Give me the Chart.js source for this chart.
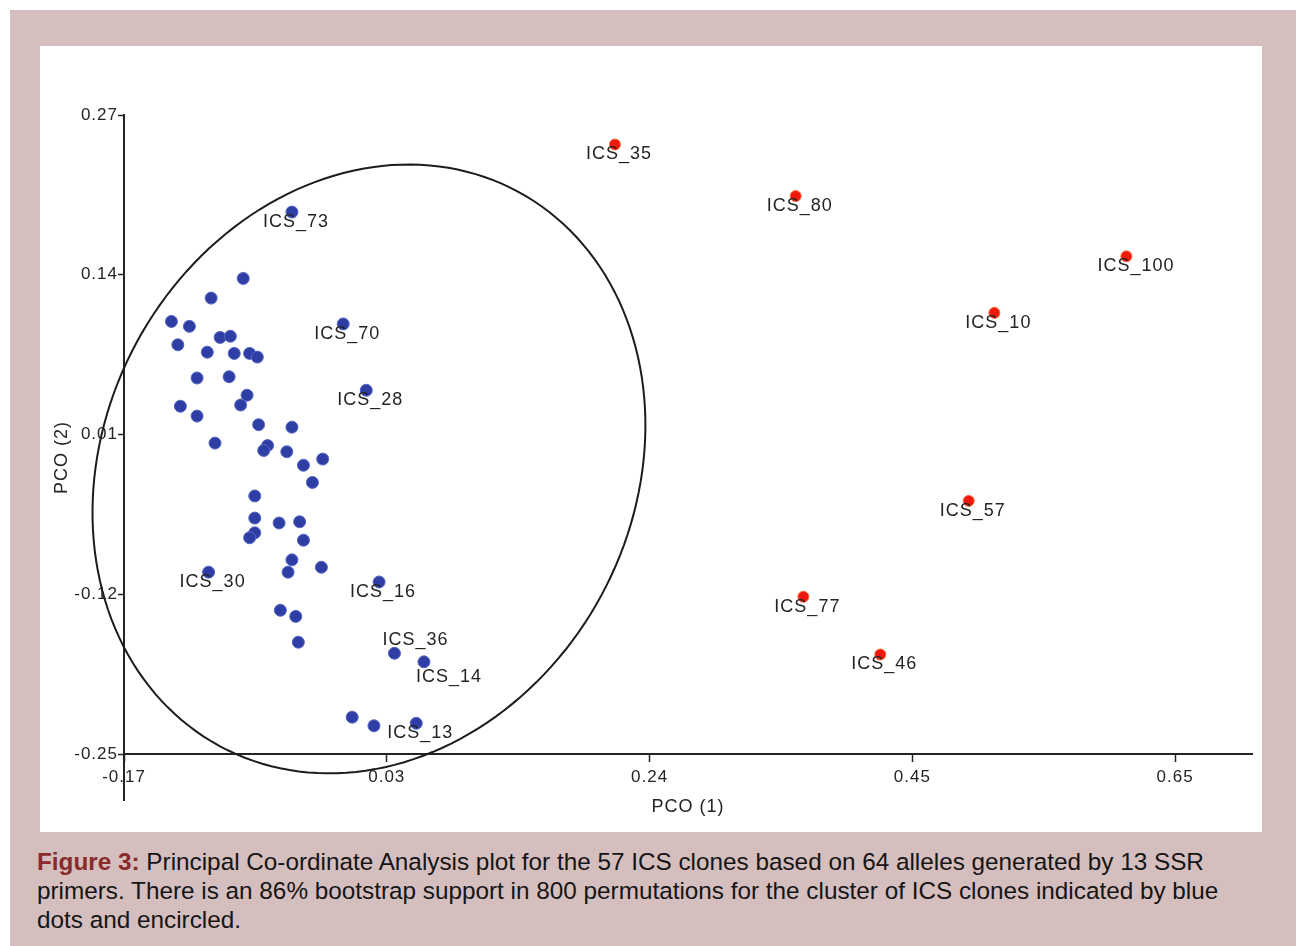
<!DOCTYPE html>
<html>
<head>
<meta charset="utf-8">
<title>PCO plot of ICS clones</title>
<script src="https://cdn.jsdelivr.net/npm/chart.js@4.4.1/dist/chart.umd.min.js"></script>
<style>
  html, body { margin: 0; padding: 0; background: #fff; }
  body { width: 1296px; height: 946px; position: relative; overflow: hidden;
         font-family: "Liberation Sans", Arial, sans-serif; }
  #frame { position: absolute; left: 10px; top: 10px; width: 1286px; height: 936px; background: #d5bebe; }
  #panel { position: absolute; left: 40px; top: 46px; width: 1222px; height: 786px; background: #fff; }
  #caption { position: absolute; left: 37px; top: 847px; font-size: 24.3px; line-height: 29px;
             color: #151515; white-space: nowrap; }
  #caption b { color: #8a2a2c; }
</style>
</head>
<body>
<div id="frame"></div>
<div id="panel"><canvas id="pco"></canvas></div>
<div id="caption"><b>Figure 3:</b> Principal Co-ordinate Analysis plot for the 57 ICS clones based on 64 alleles generated by 13 SSR<br>primers. There is an 86% bootstrap support in 800 permutations for the cluster of ICS clones indicated by blue<br>dots and encircled.</div>

<script>
// encircled cluster (blue dots): PCO (1), PCO (2), name ('' = no label)
const clusterX = [-0.039, -0.077, -0.102, -0.133, -0.119, -0.095, -0.087, -0.128, -0.105, -0.084,
                  -0.072, -0.066, -0.113, -0.088, 0.001, 0.019, -0.074, -0.079, -0.126, -0.113,
                  -0.065, -0.039, -0.099, -0.058, -0.061, -0.043, -0.030, -0.015, -0.023, -0.068,
                  -0.068, -0.049, -0.033, -0.068, -0.072, -0.030, -0.039, -0.016, -0.042, -0.104,
                  0.029, -0.048, -0.036, -0.034, 0.041, 0.064, 0.008, 0.025, 0.058];
const clusterY = [0.191, 0.137, 0.121, 0.102, 0.098, 0.089, 0.090, 0.083, 0.077, 0.076,
                  0.076, 0.073, 0.056, 0.057, 0.100, 0.046, 0.042, 0.034, 0.033, 0.025,
                  0.018, 0.016, 0.003, 0.001, -0.003, -0.004, -0.015, -0.010, -0.029, -0.040,
                  -0.058, -0.062, -0.061, -0.070, -0.074, -0.076, -0.092, -0.098, -0.102, -0.102,
                  -0.110, -0.133, -0.138, -0.159, -0.168, -0.175, -0.220, -0.227, -0.225];
const clusterNames = ['ICS_73', '', '', '', '', '', '', '', '', '',
                      '', '', '', '', 'ICS_70', 'ICS_28', '', '', '', '',
                      '', '', '', '', '', '', '', '', '', '',
                      '', '', '', '', '', '', '', '', '', 'ICS_30',
                      'ICS_16', '', '', '', 'ICS_36', 'ICS_14', '', '', 'ICS_13'];

// clones outside the cluster (red dots)
const outlierX = [0.213, 0.354, 0.612, 0.509, 0.489, 0.360, 0.420];
const outlierY = [0.246, 0.204, 0.155, 0.109, -0.044, -0.122, -0.169];
const outlierNames = ['ICS_35', 'ICS_80', 'ICS_100', 'ICS_10', 'ICS_57', 'ICS_77', 'ICS_46'];

const xTickValues = [-0.17, 0.035, 0.24, 0.445, 0.65];
const xTickLabels = ['-0.17', '0.03', '0.24', '0.45', '0.65'];
const yTickValues = [0.27, 0.14, 0.01, -0.12, -0.25];
const yTickLabels = ['0.27', '0.14', '0.01', '-0.12', '-0.25'];

const ink = '#242424';
const fontFamily = '"Liberation Sans", Arial, sans-serif';

// labels that were moved off their usual spot to avoid overlap (px)
const labelNudge = { ICS_36: [17, -23], ICS_14: [21, 5] };

// the 86% bootstrap cluster ellipse, in data units (centre + two conjugate half-axes)
const clusterEllipse = { cx: 0.0211, cy: -0.018, ax: 0.1165, ay: 0.2255, bx: 0.1815, by: -0.1025 };

function points(xs, ys) {
  return xs.map((x, i) => ({ x: x, y: ys[i] }));
}

const spacedText = {
  id: 'spacedText',
  beforeDraw(chart) { chart.ctx.letterSpacing = '1px'; },
  afterDraw(chart) { chart.ctx.letterSpacing = '0px'; }
};

const ellipse = {
  id: 'ellipse',
  afterDatasetsDraw(chart) {
    const { ctx, scales: { x, y } } = chart;
    const e = clusterEllipse;
    ctx.save();
    ctx.beginPath();
    for (let deg = 0; deg <= 360; deg += 2) {
      const t = deg * Math.PI / 180;
      const px = x.getPixelForValue(e.cx + e.ax * Math.cos(t) + e.bx * Math.sin(t));
      const py = y.getPixelForValue(e.cy + e.ay * Math.cos(t) + e.by * Math.sin(t));
      if (deg === 0) ctx.moveTo(px, py); else ctx.lineTo(px, py);
    }
    ctx.closePath();
    ctx.lineWidth = 2;
    ctx.strokeStyle = '#1c1c1c';
    ctx.stroke();
    ctx.restore();
  }
};

const pointNames = {
  id: 'pointNames',
  afterDatasetsDraw(chart) {
    const ctx = chart.ctx;
    ctx.save();
    ctx.font = '18px ' + fontFamily;
    ctx.letterSpacing = '1px';
    ctx.fillStyle = ink;
    ctx.textAlign = 'left';
    ctx.textBaseline = 'middle';
    chart.data.datasets.forEach((ds, i) => {
      chart.getDatasetMeta(i).data.forEach((pt, j) => {
        const name = ds.names[j];
        if (!name) return;
        const nudge = labelNudge[name] || [0, 0];
        ctx.fillText(name, pt.x - 29 + nudge[0], pt.y + 10 + nudge[1]);
      });
    });
    ctx.restore();
  }
};

new Chart(document.getElementById('pco'), {
  type: 'scatter',
  data: {
    datasets: [{
      label: 'Cluster',
      data: points(clusterX, clusterY),
      names: clusterNames,
      pointRadius: 6,
      backgroundColor: '#2e3ea4',
      borderColor: '#5565c4',
      borderWidth: 1
    }, {
      label: 'Other clones',
      data: points(outlierX, outlierY),
      names: outlierNames,
      pointRadius: 5.5,
      backgroundColor: '#f0190f',
      borderColor: '#ff6a3a',
      borderWidth: 1
    }]
  },
  options: {
    responsive: true,
    maintainAspectRatio: false,
    animation: false,
    events: [],
    layout: { padding: { left: 0, top: 69, right: 10, bottom: 32 } },
    plugins: { legend: { display: false }, tooltip: { enabled: false } },
    scales: {
      x: {
        type: 'linear',
        position: { y: -0.25 },
        min: -0.17,
        max: 0.71,
        afterBuildTicks: s => { s.ticks = xTickValues.map(v => ({ value: v })); },
        ticks: {
          callback: (v, i) => xTickLabels[i],
          font: { family: fontFamily, size: 17 },
          color: ink,
          padding: 6,
          maxRotation: 0
        },
        grid: { drawOnChartArea: false, drawTicks: true, tickLength: 7, tickColor: ink, tickWidth: 1.5 },
        border: { display: true, color: ink, width: 2 },
        title: { display: true, text: 'PCO (1)', color: ink,
                 font: { family: fontFamily, size: 18 }, padding: { top: 3, bottom: 0 } }
      },
      y: {
        type: 'linear',
        position: 'left',
        min: -0.2874,
        max: 0.27,
        afterBuildTicks: s => { s.ticks = yTickValues.map(v => ({ value: v })); },
        afterFit: s => { s.width = 84; },
        ticks: {
          callback: (v, i) => yTickLabels[i],
          font: { family: fontFamily, size: 17 },
          color: ink,
          padding: 0
        },
        grid: { drawOnChartArea: false, drawTicks: true, tickLength: 6, tickColor: ink, tickWidth: 1.5 },
        border: { display: true, color: ink, width: 2 },
        title: { display: true, text: 'PCO (2)', color: ink,
                 font: { family: fontFamily, size: 18 }, padding: { top: 11, bottom: 0 } }
      }
    }
  },
  plugins: [spacedText, ellipse, pointNames]
});
</script>
</body>
</html>
